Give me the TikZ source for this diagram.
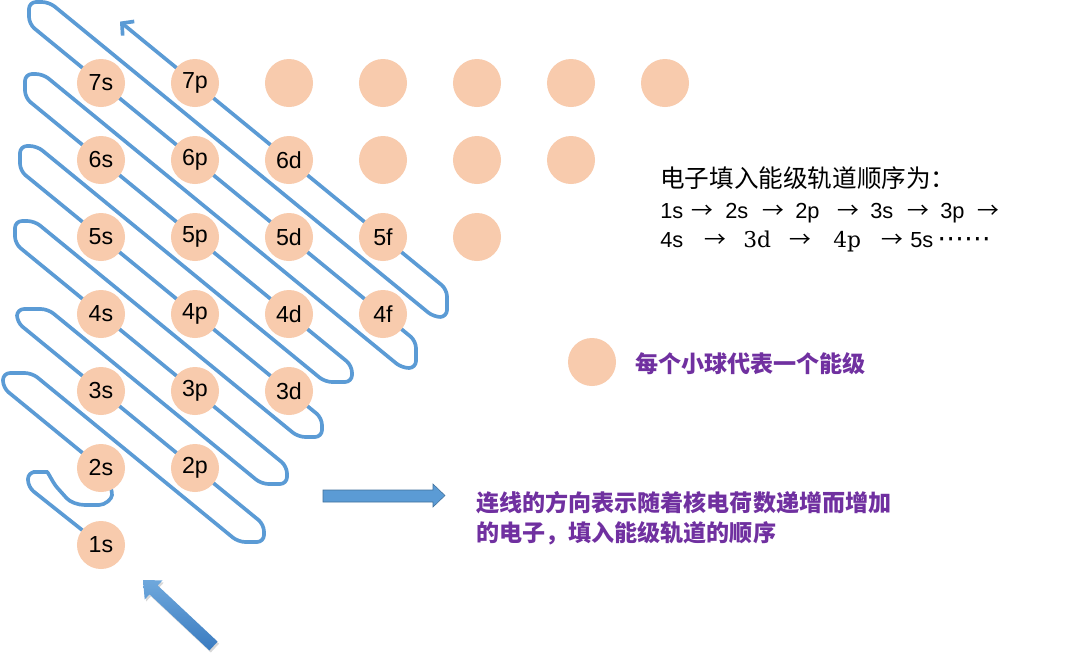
\documentclass[tikz,border=0pt]{standalone}
\usepackage{fontspec}
\setmainfont{Liberation Sans}
\newfontfamily\cjk{Noto Sans CJK SC}
\newfontfamily\serifnum{DejaVu Serif}
\newfontfamily\dotsfont{DejaVu Sans}
\usetikzlibrary{arrows.meta,shadows,backgrounds}
\definecolor{orbfill}{HTML}{F8CBAD}
\definecolor{snakeblue}{HTML}{5B9BD5}
\definecolor{notepurple}{HTML}{7030A0}
\definecolor{arrowlight}{HTML}{6FA8DC}
\definecolor{arrowdark}{HTML}{3A7BC0}
\definecolor{arrowedge}{HTML}{41719C}
\newcommand{\orderarrow}{{\cjk →}}

\begin{document}
\begin{tikzpicture}[x=0.025cm,y=-0.025cm,
orb/.style={circle,fill=orbfill,minimum size=1.2cm,inner sep=0pt,font=\fontsize{16.5}{16.5}\selectfont},
snake/.style={draw=snakeblue,line width=2.6pt,rounded corners=5pt},
note/.style={anchor=west,inner sep=0pt,text=notepurple,font=\cjk\bfseries\fontsize{16.4}{21.3}\selectfont},
order/.style={anchor=base west,inner sep=0pt,font=\fontsize{15.5}{15.5}\selectfont}]
\useasboundingbox (0,0) rectangle (1080,660);

%energy levels, row n has n balls
\foreach \n [evaluate=\n as \rowend using int(\n-1)] in {1,...,7}{
	\foreach \l in {0,...,\rowend}{
		\node[orb] (c\n\l) at ({101+94*\l},{545-77*(\n-1)})
			{\ifnum\numexpr\n+\l\relax<9 \n\ifcase\l s\or p\or d\or f\fi\fi};
	}
}

%filling order line, behind the balls
\begin{pgfonlayer}{background}
\fill[white] (0,0) rectangle (1080,660);
\draw[snake,-{Straight Barb[length=6pt,width=13pt]}]
	(c10.center) -- (28,487) -- (28,472) -- (40,472)
	.. controls (48,472) and (53,483) .. (62,493)
	.. controls (70,502) and (78,505) .. (92,505)
	.. controls (105,505) and (112,499) .. (112,488)
	-- (c20.center) -- (3,387.7) -- (3,373) -- (32,373)
	-- (238.3,542) -- (264,542) -- (264,524.5)
	-- (c21.center) -- (c30.center) -- (17,322.2) -- (17,309) -- (47.9,309)
	-- (261.5,484) -- (287,484) -- (287,466.4)
	-- (c31.center) -- (c40.center) -- (15,243.6) -- (15,221) -- (34.5,221)
	-- (298.2,437) -- (322,437) -- (322,418)
	-- (c32.center) -- (c41.center) -- (c50.center) -- (20,170.7) -- (20,146) -- (36.9,146)
	-- (325,382) -- (352,382) -- (352,365.6)
	-- (c42.center) -- (c51.center) -- (c60.center) -- (25,97.7) -- (25,74) -- (43,74)
	-- (401.9,368) -- (416,368) -- (416,341)
	-- (c43.center) -- (c52.center) -- (c61.center) -- (c70.center) -- (29,24) -- (29,2) -- (49.1,2)
	-- (433.7,317) -- (447,317) -- (447,289.4)
	-- (c53.center) -- (c62.center) -- (c71.center) -- (120,21.6);
\end{pgfonlayer}

%big arrows
\path[top color=arrowlight,bottom color=arrowdark,
	drop shadow={shadow xshift=1pt,shadow yshift=-1.5pt,opacity=0.3}]
	(143,580) -- (162.5,580.4) -- (157.7,585.5) -- (217.6,641.6)
	-- (209.4,650.4) -- (149.5,594.3) -- (144.7,599.4) -- cycle;
\draw[fill=snakeblue,draw=arrowedge,line width=0.4pt]
	(323,490) -- (433,490) -- (433,484) -- (445,495.5) -- (433,507)
	-- (433,502) -- (323,502) -- cycle;

%order text
\node[order,font=\cjk\fontsize{17.5}{20}\selectfont] (title) at (660,187) {电子填入能级轨道顺序为：};
\foreach \x/\t [count=\i] in {660/1s,691/\orderarrow,725/2s,762/\orderarrow,795/2p,837/\orderarrow,870/3s,907/\orderarrow,940/3p,977/\orderarrow}
	\node[order] (seqa\i) at (\x,218) {\t};
\foreach \x/\t [count=\i] in {660/4s,704/\orderarrow,743/{\serifnum 3d},789/\orderarrow,833/{\serifnum 4p},881/\orderarrow,910/5s,937/{\dotsfont\fontsize{19}{19}\selectfont ⋯⋯}}
	\node[order] (seqb\i) at (\x,247) {\t};

%legend and notes
\node[orb] (legend) at (592,362) {};
\node[note] (legendtext) at (635,364) {每个小球代表一个能级};
\node[note,align=left] (linenote) at (476,518) {连线的方向表示随着核电荷数递增而增加\\的电子，填入能级轨道的顺序};
\end{tikzpicture}
\end{document}
